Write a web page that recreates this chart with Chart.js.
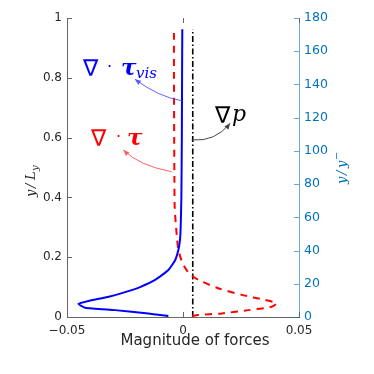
<!DOCTYPE html>
<html lang="en">
<head>
  <meta charset="UTF-8" />
  <title>Magnitude of forces</title>
  <script src="https://cdn.jsdelivr.net/npm/chart.js"></script>
  <style>
    html, body { margin: 0; padding: 0; background: #fff; }
    #wrap { width: 374px; height: 374px; }
  </style>
</head>
<body>
  <div id="wrap"><canvas id="forceChart" width="374" height="374"></canvas></div>

  <script>
    // viscous term (blue, solid): y/L_y and force value
    const viscY = [0.962, 0.80, 0.60, 0.40, 0.30, 0.258, 0.224, 0.19, 0.157, 0.124, 0.10, 0.09, 0.068, 0.0535, 0.0435, 0.031, 0.023, 0.012, 0.003];
    const viscX = [-0.0003, -0.0004, -0.0005, -0.0007, -0.0010, -0.0013, -0.0020, -0.0034, -0.0063, -0.0120, -0.0185, -0.0221, -0.0320, -0.0408, -0.0451, -0.0422, -0.0293, -0.0150, -0.0063];

    // Reynolds stress term (red, dashed)
    const reyY = [0.95, 0.80, 0.60, 0.45, 0.37, 0.31, 0.257, 0.224, 0.18, 0.146, 0.124, 0.096, 0.074, 0.057, 0.046, 0.034, 0.023, 0.012, 0.007, 0.001];
    const reyX = [-0.0039, -0.0039, -0.0038, -0.0037, -0.0036, -0.0031, -0.0025, -0.0020, -0.0002, 0.0026, 0.0066, 0.0152, 0.0253, 0.0353, 0.0404, 0.0382, 0.0282, 0.0167, 0.0066, 0.0023];

    // pressure gradient (black, dash-dot)
    const pressY = [0, 0.962];
    const pressX = [0.0042, 0.0042];

    // ticks
    const xTicks = [-0.05, 0, 0.05];
    const xTickLabels = ['\u22120.05', '0', '0.05'];
    const yTicks = [0, 0.2, 0.4, 0.6, 0.8, 1];
    const yTickLabels = ['0', '0.2', '0.4', '0.6', '0.8', '1'];
    const rTicks = [0, 20, 40, 60, 80, 100, 120, 140, 160, 180];
    const rTickLabels = ['0', '20', '40', '60', '80', '100', '120', '140', '160', '180'];

    const axisGrey = '#262626';
    const rightBlue = '#0072bd';

    // text labels + curved arrows, anchored in data units
    const notes = [
      { color: '#0000ff', at: [-0.0422, 0.809], sub: 'vis', dotDx: 23, tauDx: 37,
        arrow: { color: 'rgba(70,70,255,0.85)', from: [-0.0005, 0.723], ctrl: [-0.0107, 0.737], to: [-0.0207, 0.795] } },
      { color: '#ff0000', at: [-0.0388, 0.575], sub: '', dotDx: 24, tauDx: 35,
        arrow: { color: 'rgba(255,80,80,0.9)', from: [-0.0049, 0.486], ctrl: [-0.0189, 0.506], to: [-0.0257, 0.5585] } },
      { color: '#000000', at: [0.0147, 0.652], sub: null,
        arrow: { color: '#444', from: [0.00375, 0.592], ctrl: [0.0141, 0.586], to: [0.0203, 0.648] } }
    ];

    const pts = (xs, ys) => ys.map((y, i) => ({ x: xs[i], y: y }));

    function arrowHead(ctx, x, y, ang, color) {
      ctx.save();
      ctx.translate(x, y);
      ctx.rotate(ang);
      ctx.fillStyle = color;
      ctx.beginPath();
      ctx.moveTo(0, 0);
      ctx.lineTo(-6, -2.6);
      ctx.lineTo(-6, 2.6);
      ctx.closePath();
      ctx.fill();
      ctx.restore();
    }

    const decor = {
      id: 'decor',
      afterDraw(chart) {
        const { ctx, chartArea: a, scales } = chart;
        const sx = scales.x, sy = scales.y, sr = scales.y1;
        const P = (d) => [sx.getPixelForValue(d[0]), sy.getPixelForValue(d[1])];
        ctx.save();

        // inward tick marks
        ctx.lineWidth = 1;
        ctx.strokeStyle = '#666';
        ctx.beginPath();
        xTicks.forEach(v => {
          const px = Math.round(sx.getPixelForValue(v)) + 0.5;
          ctx.moveTo(px, a.bottom); ctx.lineTo(px, a.bottom - 5);
          ctx.moveTo(px, a.top); ctx.lineTo(px, a.top + 5);
        });
        yTicks.forEach(v => {
          const py = Math.round(sy.getPixelForValue(v)) + 0.5;
          ctx.moveTo(a.left, py); ctx.lineTo(a.left + 5, py);
        });
        ctx.stroke();
        ctx.strokeStyle = 'rgba(0,114,189,0.6)';
        ctx.beginPath();
        rTicks.forEach(v => {
          const py = Math.round(sr.getPixelForValue(v)) + 0.5;
          ctx.moveTo(a.right, py); ctx.lineTo(a.right - 5, py);
        });
        ctx.stroke();

        // x title
        ctx.fillStyle = axisGrey;
        ctx.font = '15px "DejaVu Sans"';
        ctx.textAlign = 'center';
        ctx.textBaseline = 'alphabetic';
        ctx.fillText('Magnitude of forces', 195, 345);

        // left y title: y/L_y
        ctx.textAlign = 'left';
        ctx.save();
        ctx.translate(35, 197);
        ctx.rotate(-Math.PI / 2);
        ctx.font = 'italic 13px "DejaVu Serif"';
        ctx.fillText('y', 0, 0);
        ctx.fillText('/', 9, 0);
        ctx.fillText('L', 17, 0);
        ctx.font = 'italic 10px "DejaVu Serif"';
        ctx.fillText('y', 26, 3);
        ctx.restore();

        // right y title: y/y^-
        ctx.fillStyle = rightBlue;
        ctx.save();
        ctx.translate(346, 184);
        ctx.rotate(-Math.PI / 2);
        ctx.font = 'italic 13px "DejaVu Serif"';
        ctx.fillText('y', 0, 0);
        ctx.fillText('/', 9, 0);
        ctx.fillText('y', 16, 0);
        ctx.font = '10px "DejaVu Serif"';
        ctx.fillText('\u2212', 24, -6);
        ctx.restore();

        // annotations
        notes.forEach(n => {
          const ar = n.arrow;
          const s = P(ar.from), c = P(ar.ctrl), e = P(ar.to);
          ctx.strokeStyle = ar.color;
          ctx.lineWidth = 1;
          ctx.beginPath();
          ctx.moveTo(s[0], s[1]);
          ctx.quadraticCurveTo(c[0], c[1], e[0], e[1]);
          ctx.stroke();
          arrowHead(ctx, e[0], e[1], Math.atan2(e[1] - c[1], e[0] - c[0]), ar.color);

          const [tx, ty] = P(n.at);
          ctx.fillStyle = n.color;
          ctx.textAlign = 'left';
          ctx.textBaseline = 'alphabetic';
          ctx.font = '23px "DejaVu Sans"';
          ctx.fillText('\u2207', tx - 2, ty + 1);
          if (n.sub === null) {
            ctx.font = 'italic 22px "DejaVu Serif"';
            ctx.fillText('p', tx + 15, ty - 1);
            return;
          }
          ctx.font = '16px "DejaVu Serif"';
          ctx.fillText('\u00b7', tx + n.dotDx - 1, ty - 3);
          ctx.font = 'italic bold 23px "DejaVu Serif"';
          ctx.fillText('\u03c4', tx + n.tauDx - 1, ty);
          if (n.sub) {
            ctx.font = 'italic 15px "DejaVu Serif"';
            ctx.fillText(n.sub, tx + n.tauDx + 14, ty + 3);
          }
        });
        ctx.restore();
      }
    };

    const ctx = document.getElementById('forceChart').getContext('2d');
    new Chart(ctx, {
      type: 'scatter',
      data: {
        datasets: [
          {
            label: 'viscous',
            data: pts(viscX, viscY),
            showLine: true,
            borderColor: '#0000ff',
            borderWidth: 2,
            pointRadius: 0,
            tension: 0.15,
            yAxisID: 'y'
          },
          {
            label: 'reynolds',
            data: pts(reyX, reyY),
            showLine: true,
            borderColor: '#ff0000',
            borderWidth: 2,
            borderDash: [7, 6],
            pointRadius: 0,
            tension: 0.2,
            yAxisID: 'y'
          },
          {
            label: 'pressure',
            data: pts(pressX, pressY),
            showLine: true,
            borderColor: '#000000',
            borderWidth: 1.6,
            borderDash: [6, 2.5, 1.5, 2.5],
            pointRadius: 0,
            yAxisID: 'y'
          }
        ]
      },
      options: {
        responsive: false,
        animation: false,
        layout: { padding: { top: 18, left: 0, right: 0, bottom: 0 } },
        plugins: { legend: { display: false }, tooltip: { enabled: false } },
        scales: {
          x: {
            type: 'linear',
            min: -0.05, max: 0.05,
            afterBuildTicks: s => { s.ticks = xTicks.map(v => ({ value: v })); },
            afterFit: s => { s.height = 57; },
            grid: { display: false, drawTicks: false },
            border: { display: true, color: '#666', width: 1 },
            ticks: {
              color: axisGrey, padding: 7, maxRotation: 0,
              font: { family: 'DejaVu Sans', size: 12 },
              callback: (v, i) => xTickLabels[i]
            }
          },
          y: {
            type: 'linear',
            position: 'left',
            min: 0, max: 1,
            afterBuildTicks: s => { s.ticks = yTicks.map(v => ({ value: v })); },
            afterFit: s => { s.width = 67; },
            grid: { display: false, drawTicks: false },
            border: { display: true, color: '#666', width: 1 },
            ticks: {
              color: axisGrey, padding: 5,
              font: { family: 'DejaVu Sans', size: 12 },
              callback: (v, i) => yTickLabels[i]
            }
          },
          y1: {
            type: 'linear',
            position: 'right',
            display: true,
            min: 0, max: 180,
            afterBuildTicks: s => { s.ticks = rTicks.map(v => ({ value: v })); },
            afterFit: s => { s.width = 75; },
            grid: { display: false, drawTicks: false },
            border: { display: true, color: 'rgba(0,114,189,0.6)', width: 1 },
            ticks: {
              color: rightBlue, padding: 5,
              font: { family: 'DejaVu Sans', size: 12.5 },
              callback: (v, i) => rTickLabels[i]
            }
          }
        }
      },
      plugins: [decor]
    });
  </script>
</body>
</html>
